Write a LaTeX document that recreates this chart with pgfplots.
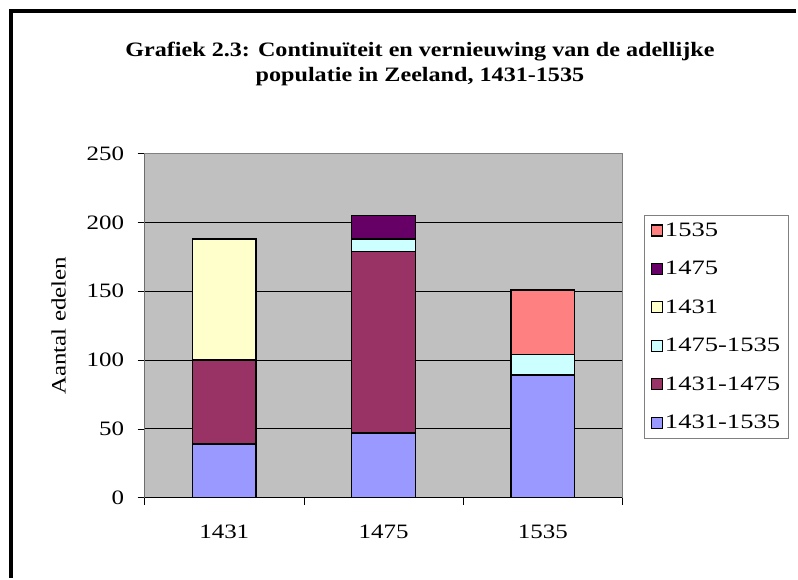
\documentclass[border=0pt]{standalone}
\usepackage{fontspec}
\setmainfont{Liberation Serif}
\newfontfamily\labfont[FakeStretch=1.22]{Liberation Serif}
\newfontfamily\legfont[FakeStretch=1.3]{Liberation Serif}
\newfontfamily\titfont[FakeStretch=1.18]{Liberation Serif}
\usepackage{pgfplots}
\pgfplotsset{compat=1.18}
\definecolor{cblue}{HTML}{9999FF}
\definecolor{cmaroon}{HTML}{993366}
\definecolor{ccyan}{HTML}{CCFFFF}
\definecolor{cyellow}{HTML}{FFFFCC}
\definecolor{cpurple}{HTML}{660066}
\definecolor{csalmon}{HTML}{FF8080}
\definecolor{bggray}{HTML}{C0C0C0}
\begin{document}
\begin{tikzpicture}[x=1pt,y=1pt]
\path (0,0) rectangle (798,579);
\draw[line width=4pt] (11,0) -- (11,567.5) -- (798,567.5);
\node[align=center,font={\titfont\fontsize{20.5}{25}\selectfont\bfseries}] at (421,515)
  {Grafiek 2.3: Continuïteit en vernieuwing van de adellijke\\populatie in Zeeland, 1431-1535};
\begin{axis}[
  at={(145pt,80pt)}, anchor=south west,
  width=479pt, height=345pt, scale only axis,
  xmin=-0.5, xmax=2.5, ymin=0, ymax=250,
  ybar stacked, bar width=64pt,
  axis background/.style={fill=bggray},
  axis line style={draw=gray, line width=1pt},
  xtick={0,1,2}, xticklabels={1431,1475,1535},
  major x tick style={draw=none},
  minor xtick={-0.5,0.5,1.5,2.5},
  minor x tick style={black, line width=0.8pt},
  minor tick length=7pt,
  ytick={0,50,100,150,200,250},
  y tick style={black, line width=0.8pt},
  major tick length=7pt,
  tick align=outside,
  xtick pos=bottom, ytick pos=left,
  ymajorgrids, grid style={black, line width=0.9pt},
  tick label style={font={\labfont\fontsize{20.5}{24}\selectfont}},
  yticklabel style={xshift=-10pt},
  xticklabel style={yshift=-17pt},
  /pgf/number format/assume math mode=true,
  ylabel={Aantal edelen},
  ylabel style={font={\labfont\fontsize{20.5}{24}\selectfont}, yshift=14pt},
  every axis plot/.append style={draw=black, line width=1.5pt},
  reverse legend,
  legend cell align=left,
  legend style={at={(1.046,0.823)}, anchor=north west, draw=gray, line width=0.8pt,
    font={\legfont\fontsize{20.5}{24}\selectfont}, row sep=19.5pt, inner xsep=6pt, inner ysep=6pt},
  legend image code/.code={\draw[#1, line width=1.2pt] (0pt,-5.5pt) rectangle (11pt,5.5pt);},
]
\addplot[fill=cblue] coordinates {(0,39) (1,47) (2,89)};
\addlegendentry{1431-1535}
\addplot[fill=cmaroon] coordinates {(0,61) (1,132) (2,0)};
\addlegendentry{1431-1475}
\addplot[fill=ccyan] coordinates {(0,0) (1,9) (2,15)};
\addlegendentry{1475-1535}
\addplot[fill=cyellow] coordinates {(0,88) (1,0) (2,0)};
\addlegendentry{1431}
\addplot[fill=cpurple] coordinates {(0,0) (1,17) (2,0)};
\addlegendentry{1475}
\addplot[fill=csalmon] coordinates {(0,0) (1,0) (2,47)};
\addlegendentry{1535}
\draw[black, line width=1pt] (rel axis cs:0,0) -- (rel axis cs:1,0);
\draw[black!70, line width=1pt] (rel axis cs:0,0) -- (rel axis cs:0,1);
\end{axis}
\end{tikzpicture}
\end{document}
